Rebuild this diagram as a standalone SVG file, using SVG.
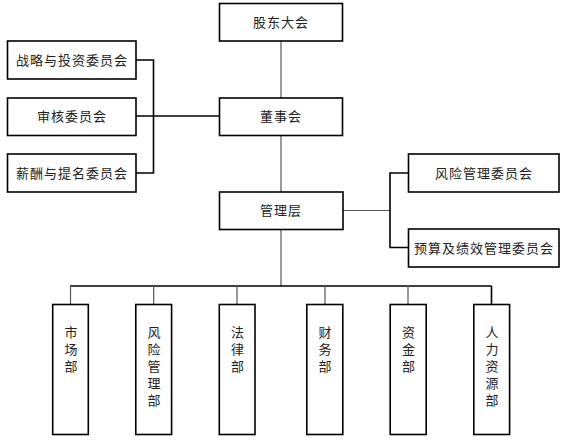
<svg xmlns="http://www.w3.org/2000/svg" width="564" height="441" viewBox="0 0 564 441">
<style>
.box{fill:#fff;stroke:#000;stroke-width:1.6}
.t{font-family:"Noto Sans CJK SC","Noto Sans",sans-serif;font-size:13px;fill:#222;text-anchor:middle;letter-spacing:1px}
.v{font-family:"Noto Sans CJK SC","Noto Sans",sans-serif;font-size:13px;fill:#222;writing-mode:vertical-rl;text-orientation:upright;text-anchor:start;letter-spacing:4px}
.c{fill:none;stroke:#000;stroke-width:1.6}
.g{fill:none;stroke:#555;stroke-width:1.2}
</style>
<rect width="564" height="441" fill="#fff"/>
<g id="connectors">
<line class="g" x1="281" y1="41" x2="281" y2="98"/>
<line class="g" x1="281" y1="135" x2="281" y2="192"/>
<line class="g" x1="281" y1="229" x2="281" y2="286"/>
<polyline class="c" points="136,60 153.5,60 153.5,173 136,173"/>
<line class="c" x1="136" y1="116" x2="219" y2="116"/>
<line class="g" x1="343" y1="210.5" x2="390" y2="210.5"/>
<polyline class="c" points="408,173 390,173 390,247.5 408,247.5"/>
<line class="c" x1="70" y1="286" x2="491.5" y2="286"/>
<line class="g" x1="70.5" y1="286" x2="70.5" y2="304"/>
<line class="g" x1="153.7" y1="286" x2="153.7" y2="304"/>
<line class="g" x1="237" y1="286" x2="237" y2="304"/>
<line class="g" x1="325" y1="286" x2="325" y2="304"/>
<line class="g" x1="408" y1="286" x2="408" y2="304"/>
<line class="c" x1="491.5" y1="286" x2="491.5" y2="304"/>
</g>
<g id="gudong"><rect class="box" x="219.5" y="3.5" width="123" height="37.5"/><text class="t" x="281" y="27">股东大会</text></g>
<g id="zhanlue"><rect class="box" x="7.5" y="41" width="128.5" height="38"/><text class="t" x="72" y="64.5">战略与投资委员会</text></g>
<g id="shenhe"><rect class="box" x="7.5" y="98" width="128.5" height="37.5"/><text class="t" x="72" y="121">审核委员会</text></g>
<g id="xinchou"><rect class="box" x="7.5" y="154" width="128.5" height="38"/><text class="t" x="72" y="177.5">薪酬与提名委员会</text></g>
<g id="dongshi"><rect class="box" x="219.5" y="98" width="123" height="37.5"/><text class="t" x="281" y="121">董事会</text></g>
<g id="guanli"><rect class="box" x="219.5" y="192" width="123.5" height="37.5"/><text class="t" x="281" y="215">管理层</text></g>
<g id="fengxianwyh"><rect class="box" x="408.5" y="154" width="150.5" height="38"/><text class="t" x="484" y="177.5">风险管理委员会</text></g>
<g id="yusuan"><rect class="box" x="408.5" y="229" width="150.5" height="38"/><text class="t" x="484" y="252.5">预算及绩效管理委员会</text></g>
<g id="shichang"><rect class="box" x="52.7" y="304.5" width="35.6" height="130"/><text class="v" x="71" y="326">市场部</text></g>
<g id="fengxianb"><rect class="box" x="135.8" y="304.5" width="35.8" height="130"/><text class="v" x="154" y="326">风险管理部</text></g>
<g id="falv"><rect class="box" x="219.3" y="304.5" width="35.7" height="130"/><text class="v" x="237.5" y="326">法律部</text></g>
<g id="caiwu"><rect class="box" x="306.8" y="304.5" width="36" height="130"/><text class="v" x="325" y="326">财务部</text></g>
<g id="zijin"><rect class="box" x="390.2" y="304.5" width="36" height="130"/><text class="v" x="408.5" y="326">资金部</text></g>
<g id="renli"><rect class="box" x="473.8" y="304.5" width="35.8" height="130"/><text class="v" x="492" y="326">人力资源部</text></g>
</svg>
